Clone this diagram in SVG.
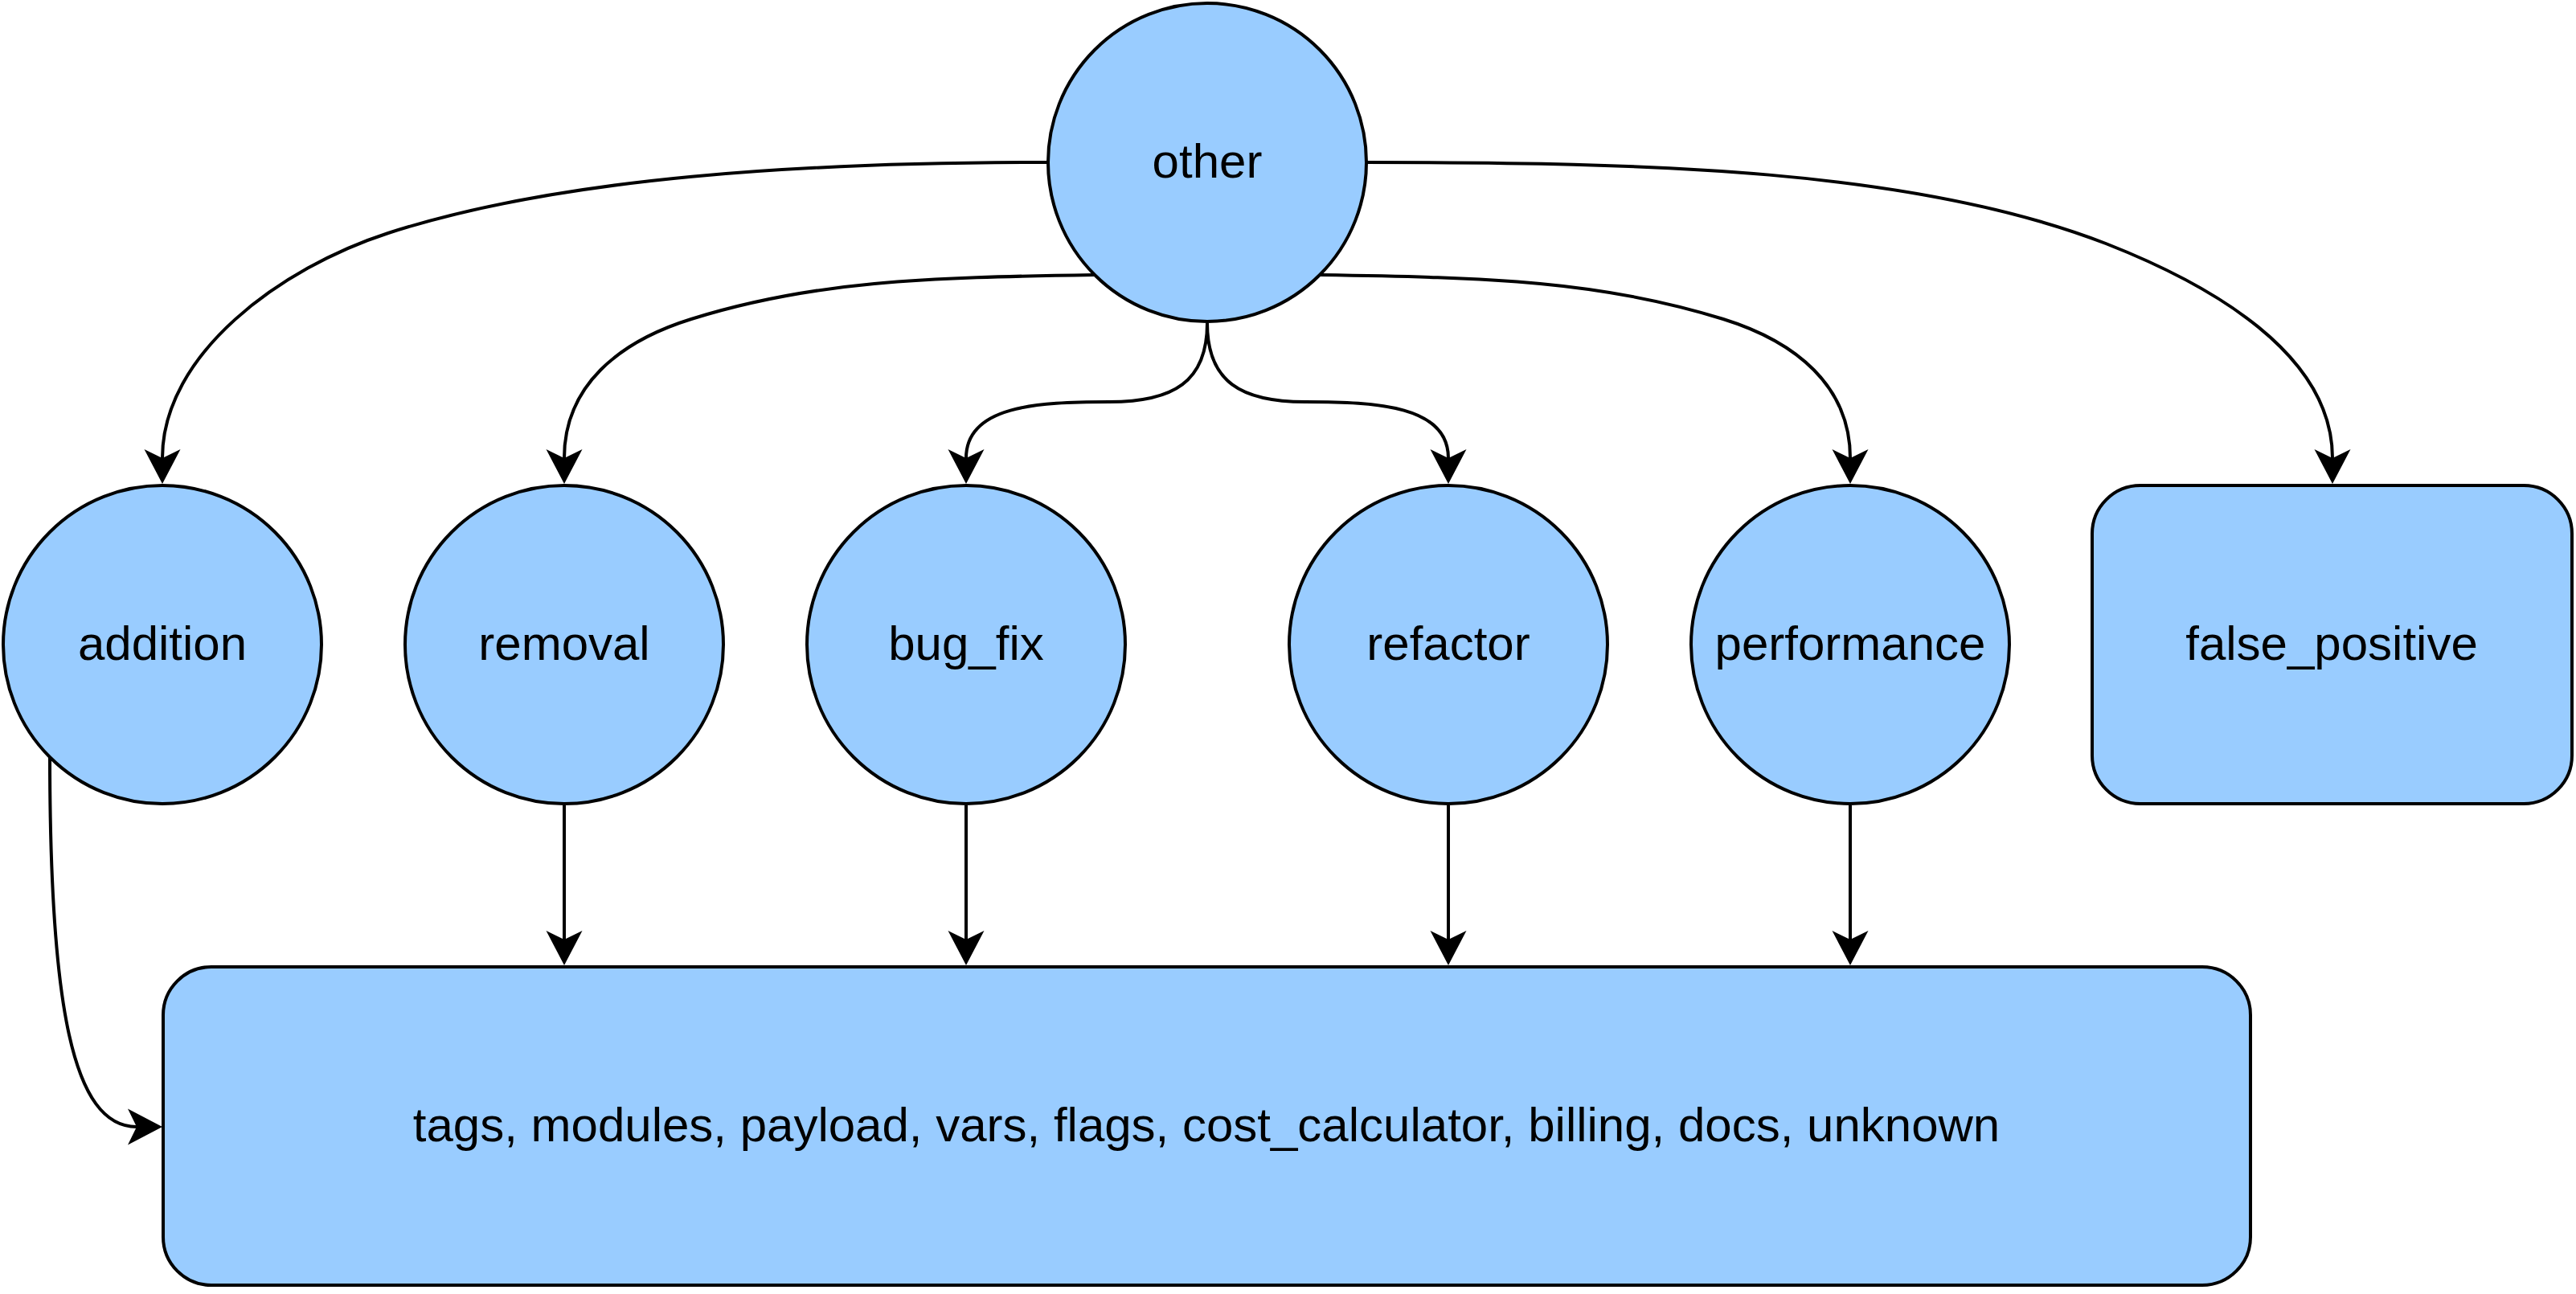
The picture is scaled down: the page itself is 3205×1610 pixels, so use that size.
<svg xmlns="http://www.w3.org/2000/svg" width="3205" height="1610" viewBox="0 0 3205 1610">
  <style>
    .node { fill: #99CCFF; stroke: #000000; stroke-width: 4; }
    .label { font-family: "Liberation Sans", Arial, Helvetica, sans-serif; font-size: 60px; fill: #000000; text-anchor: middle; }
    .edge { fill: none; stroke: #000000; stroke-width: 4; marker-end: url(#arrow); }
  </style>
  <defs>
    <marker id="arrow" viewBox="-1 -24 46 48" markerWidth="46" markerHeight="48" refX="11" refY="0" orient="auto" markerUnits="userSpaceOnUse">
      <path d="M0,-22.5 L43,0 L0,22.5 L11,0 Z" fill="#000000"/>
    </marker>
  </defs>
  <rect width="3205" height="1610" fill="#FFFFFF"/>

  <g id="connectors">
    <path id="e-other-addition" class="edge" d="M1304,202 C1000,202 700,220 483,290 C350,333 202,440 202,570"/>
    <path id="e-other-false_positive" class="edge" d="M1700,202 C2050,202 2380,210 2620,303 C2750,354 2902,440 2902,570"/>
    <path id="e-other-removal" class="edge" d="M1362,342 C1150,345 1010,350 860,397 C770,425 702,480 702,570"/>
    <path id="e-other-performance" class="edge" d="M1642,342 C1854,345 1994,350 2144,397 C2234,425 2302,480 2302,570"/>
    <path id="e-other-bug_fix" class="edge" d="M1502,402 C1502,475 1460,500 1380,500 C1290,500 1202,505 1202,570"/>
    <path id="e-other-refactor" class="edge" d="M1502,402 C1502,475 1544,500 1624,500 C1714,500 1802,505 1802,570"/>
    <path id="e-addition-bottom" class="edge" d="M62,942 C62,1250 90,1402 170,1402"/>
    <path id="e-removal-bottom" class="edge" d="M702,1002 L702,1169"/>
    <path id="e-bug_fix-bottom" class="edge" d="M1202,1002 L1202,1169"/>
    <path id="e-refactor-bottom" class="edge" d="M1802,1002 L1802,1169"/>
    <path id="e-performance-bottom" class="edge" d="M2302,1002 L2302,1169"/>
  </g>

  <g id="node-other">
    <circle class="node" cx="1502" cy="202" r="198"/>
    <text class="label" x="1502" y="221">other</text>
  </g>
  <g id="node-addition">
    <circle class="node" cx="202" cy="802" r="198"/>
    <text class="label" x="202" y="821">addition</text>
  </g>
  <g id="node-removal">
    <circle class="node" cx="702" cy="802" r="198"/>
    <text class="label" x="702" y="821">removal</text>
  </g>
  <g id="node-bug_fix">
    <circle class="node" cx="1202" cy="802" r="198"/>
    <text class="label" x="1202" y="821">bug_fix</text>
  </g>
  <g id="node-refactor">
    <circle class="node" cx="1802" cy="802" r="198"/>
    <text class="label" x="1802" y="821">refactor</text>
  </g>
  <g id="node-performance">
    <circle class="node" cx="2302" cy="802" r="198"/>
    <text class="label" x="2302" y="821">performance</text>
  </g>
  <g id="node-false_positive">
    <rect class="node" x="2603" y="604" width="597" height="396" rx="60" ry="60"/>
    <text class="label" x="2901" y="821">false_positive</text>
  </g>
  <g id="node-bottom">
    <rect class="node" x="203" y="1203" width="2597" height="396" rx="60" ry="60"/>
    <text class="label" x="1501" y="1420">tags, modules, payload, vars, flags, cost_calculator, billing, docs, unknown</text>
  </g>
</svg>
